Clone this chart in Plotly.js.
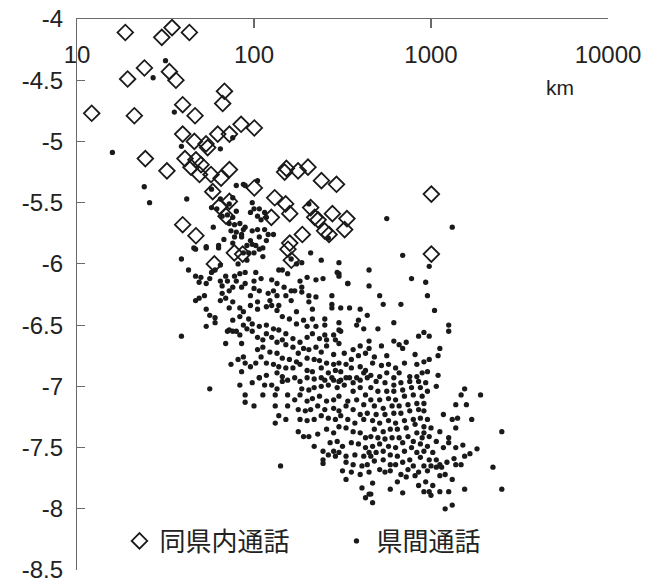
<!DOCTYPE html>
<html>
<head>
<meta charset="utf-8">
<script src="https://cdn.plot.ly/plotly-3.0.1.min.js"></script>
<style>
  html, body { margin: 0; padding: 0; background: #ffffff; }
  #chart { width: 645px; height: 587px; }
</style>
</head>
<body>
<div id="chart"></div>
<script>
// Series names (legend)
const seriesNames = ["同県内通話", "県間通話"];

// X-axis tick labels (distance, km)
const xTickValues = [10, 100, 1000, 10000];
const xTickLabels = ["10", "100", "1000", "10000"];
const xUnitLabel = "km";

// Y-axis tick labels
const yTickValues = [-4, -4.5, -5, -5.5, -6, -6.5, -7, -7.5, -8, -8.5];
const yTickLabels = ["-4", "-4.5", "-5", "-5.5", "-6", "-6.5", "-7", "-7.5", "-8", "-8.5"];

// 同県内通話 (within prefecture): [log10(distance km), value]
const intraPoints = [
  [1.273,-4.11],[1.479,-4.15],[1.537,-4.07],[1.635,-4.11],[1.381,-4.40],[1.286,-4.49],[1.522,-4.43],
  [1.559,-4.50],[1.833,-4.59],[1.823,-4.69],[1.083,-4.77],[1.324,-4.79],[1.597,-4.70],[1.667,-4.79],
  [1.927,-4.86],[2.002,-4.89],[1.597,-4.94],[1.663,-5.00],[1.795,-4.94],[1.861,-4.94],[1.729,-5.02],
  [1.386,-5.14],[1.508,-5.24],[1.610,-5.14],[1.644,-5.21],[1.672,-5.15],[1.692,-5.27],[1.701,-5.19],
  [1.757,-5.27],[1.814,-5.30],[1.861,-5.23],[1.767,-5.41],[1.805,-5.53],[1.861,-5.49],[1.842,-5.61],
  [1.597,-5.68],[1.672,-5.77],[1.889,-5.91],[1.936,-5.92],[1.776,-6.00],[1.738,-5.05],[2.002,-5.38],
  [2.183,-5.22],[2.173,-5.25],[2.249,-5.24],[2.305,-5.21],[2.381,-5.32],[2.466,-5.35],[2.117,-5.46],
  [2.179,-5.51],[2.202,-5.59],[2.098,-5.62],[2.320,-5.54],[2.362,-5.64],[2.343,-5.62],[2.443,-5.59],
  [2.525,-5.63],[2.399,-5.73],[2.424,-5.76],[2.512,-5.72],[2.273,-5.76],[2.202,-5.83],[2.192,-5.88],
  [2.211,-5.97],[3.002,-5.43],[3.002,-5.92]
];

// 県間通話 (between prefectures): [log10(distance km), value]
const interPointsUpper = [
  [1.50,-4.34],[1.43,-4.48],[1.55,-4.76],[1.20,-5.09],[1.38,-5.37],[1.41,-5.50],[1.62,-5.47],[1.59,-5.04],
  [1.81,-5.06],[1.88,-4.97],[1.66,-5.87],[1.73,-5.86],[1.80,-5.85],[1.77,-5.70],[1.83,-5.80],[1.90,-5.36],
  [1.95,-5.36],[1.99,-5.50],[1.98,-5.58],[1.86,-5.67],[1.89,-5.68],[1.92,-5.67],[1.87,-5.73],[1.90,-5.74],
  [1.94,-5.72],[1.93,-5.78],[1.89,-5.78],[1.76,-5.39],[1.81,-5.47],[1.79,-5.55],[1.82,-5.61],[2.02,-5.32],
  [1.88,-5.46],[1.86,-5.51],[1.90,-5.57],[1.85,-5.60],[1.88,-5.62],[1.76,-5.54],[2.48,-6.08],[2.53,-6.16],
  [1.94,-5.35],[2.00,-5.55],[2.03,-5.55],[2.06,-5.58],[2.02,-5.61],[2.04,-5.64],[2.07,-5.62],[1.95,-5.70],
  [1.93,-5.76],[1.99,-5.73],[2.02,-5.72],[2.06,-5.72],[2.08,-5.76],[2.11,-5.76],[2.03,-5.78],[2.07,-5.81],
  [1.98,-5.81],[1.96,-5.85],[2.01,-5.85],[2.05,-5.87],[2.31,-5.51],[2.75,-5.63],[3.12,-5.70]
];
const interPointsMidLeft = [
  [1.67,-5.88],[1.73,-5.87],[1.80,-5.87],[1.88,-5.83],[1.94,-5.91],[1.97,-5.91],[2.00,-5.91],[2.03,-5.88],
  [2.05,-5.94],[1.99,-5.84],[1.59,-5.96],[1.91,-6.00],[1.96,-5.97],[1.81,-6.01],[1.78,-6.05],[1.76,-6.07],
  [1.63,-6.05],[1.67,-6.10],[1.70,-6.11],[1.69,-6.15],[1.73,-6.16],[1.75,-6.12],[1.81,-6.14],[1.84,-6.10],
  [1.85,-6.14],[1.89,-6.10],[1.90,-6.14],[1.92,-6.08],[1.95,-6.07],[2.01,-6.07],[1.95,-6.16],[2.00,-6.14],
  [2.04,-6.12],[2.10,-6.13],[2.13,-6.16],[2.14,-6.05],[2.16,-6.05],[2.19,-6.08],[2.24,-6.00],[2.27,-5.99],
  [2.21,-5.96],[2.32,-5.91],[2.30,-6.11],[2.27,-6.19],[2.35,-6.13],[2.26,-6.14],[2.21,-6.22],[2.17,-6.19],
  [2.11,-6.22],[2.08,-6.24],[2.13,-6.26],[2.09,-6.30],[2.03,-6.22],[2.00,-6.20],[1.98,-6.26],[1.93,-6.19],
  [1.88,-6.19],[1.86,-6.22],[1.82,-6.18],[1.82,-6.24],[1.81,-6.30],[1.84,-6.28],[1.88,-6.31],[1.86,-6.36],
  [1.92,-6.36],[1.94,-6.39],[1.98,-6.34],[2.02,-6.31],[2.02,-6.37],[2.07,-6.35],[2.10,-6.34],[2.14,-6.34],
  [2.13,-6.38],[2.18,-6.26],[2.21,-6.30],[2.23,-6.22],[2.27,-6.23],[2.31,-6.26],[2.31,-6.31],[2.35,-6.27],
  [2.33,-6.37],[2.24,-6.39],[2.16,-6.43],[2.20,-6.45],[2.24,-6.49],[2.28,-6.46],[2.30,-6.51],[2.33,-6.45],
  [2.35,-6.51],[2.33,-6.57],[2.30,-6.60],[2.26,-6.64],[2.22,-6.61],[2.18,-6.57],[2.14,-6.54],[2.11,-6.53],
  [2.07,-6.50],[2.03,-6.51],[1.99,-6.49],[1.97,-6.45],[1.92,-6.43],[1.94,-6.50],[1.96,-6.53],[1.88,-6.46],
  [1.86,-6.54],[1.85,-6.55],[1.88,-6.55],[1.90,-6.55],[1.92,-6.58],[1.99,-6.55],[2.02,-6.60],[2.05,-6.62],
  [2.07,-6.57],[2.10,-6.60],[2.13,-6.64],[2.16,-6.62],[2.18,-6.66],[2.22,-6.68],[2.25,-6.73],[2.28,-6.69],
  [2.31,-6.70],[2.35,-6.68],[2.34,-6.78],[2.30,-6.77],[2.24,-6.80],[2.20,-6.78],[2.16,-6.77],[2.13,-6.73],
  [2.09,-6.72],[2.05,-6.68],[2.02,-6.70],[2.04,-6.76],[2.07,-6.81],[2.01,-6.81],[1.98,-6.84],[1.94,-6.76],
  [1.91,-6.78],[1.87,-6.82],[1.93,-6.88],[1.95,-6.81],[2.11,-6.82],[2.14,-6.84],[2.18,-6.85],[2.22,-6.85],
  [2.26,-6.82],[2.30,-6.87],[2.33,-6.88],[2.16,-6.92],[2.13,-6.89],[2.07,-6.91],[2.03,-6.93],[1.73,-6.37],
  [1.75,-6.42],[1.78,-6.44],[1.67,-6.30],[1.69,-6.28],[1.72,-6.26],[1.73,-6.51],[1.78,-6.48],[1.59,-6.59],
  [1.84,-6.65],[1.93,-6.65]
];
const interPointsMidRight = [
  [2.42,-5.79],[2.38,-5.97],[2.48,-5.99],[2.47,-6.07],[2.48,-6.10],[2.39,-6.12],[2.53,-6.16],[2.65,-6.05],
  [2.65,-6.18],[2.84,-5.93],[2.99,-6.02],[2.89,-6.12],[2.97,-6.15],[2.98,-6.26],[2.71,-6.26],[2.73,-6.33],
  [2.83,-6.33],[3.02,-6.38],[2.44,-6.26],[2.44,-6.33],[2.44,-6.36],[2.49,-6.36],[2.54,-6.36],[2.60,-6.37],
  [2.64,-6.42],[2.59,-6.46],[2.58,-6.50],[2.62,-6.53],[2.70,-6.53],[2.79,-6.48],[2.40,-6.45],[2.40,-6.50],
  [2.48,-6.48],[2.48,-6.54],[2.49,-6.55],[2.45,-6.58],[2.40,-6.58],[2.37,-6.61],[2.41,-6.62],[2.46,-6.62],
  [2.48,-6.65],[2.41,-6.67],[2.38,-6.72],[2.45,-6.74],[2.51,-6.73],[2.56,-6.70],[2.60,-6.67],[2.65,-6.63],
  [2.65,-6.69],[2.72,-6.67],[2.79,-6.63],[2.82,-6.66],[2.86,-6.64],[2.84,-6.69],[2.93,-6.59],[2.96,-6.56],
  [2.99,-6.59],[3.05,-6.69],[3.10,-6.50],[3.10,-6.55],[3.04,-6.75],[2.75,-6.75],[2.68,-6.76],[2.63,-6.73],
  [2.59,-6.75],[2.55,-6.78],[2.52,-6.82],[2.48,-6.81],[2.45,-6.82],[2.41,-6.81],[2.37,-6.79],[2.38,-6.85],
  [2.42,-6.89],[2.46,-6.87],[2.49,-6.88],[2.55,-6.85],[2.60,-6.84],[2.63,-6.87],[2.67,-6.81],[2.72,-6.83],
  [2.76,-6.82],[2.80,-6.85],[2.85,-6.81],[2.91,-6.74],[2.92,-6.82],[2.96,-6.80],[2.99,-6.78],[2.98,-6.88],
  [3.04,-6.91],[2.95,-6.89],[2.92,-6.92],[2.88,-6.92],[2.82,-6.89],[2.79,-6.93],[2.75,-6.89],[2.71,-6.92],
  [2.66,-6.91],[2.62,-6.89],[2.58,-6.93],[2.54,-6.93],[2.49,-6.95],[2.45,-6.95],[2.40,-6.95]
];
const interPointsLowLeft = [
  [1.75,-7.02],[1.92,-6.99],[1.99,-6.97],[2.03,-6.93],[2.06,-6.99],[2.10,-6.99],[2.13,-7.02],[2.16,-6.96],
  [2.19,-6.95],[2.23,-6.93],[2.26,-6.96],[2.30,-6.93],[2.34,-6.94],[2.38,-6.93],[2.44,-6.93],[2.48,-6.96],
  [2.52,-6.93],[2.56,-6.97],[2.60,-6.95],[2.64,-6.93],[1.95,-7.07],[1.95,-7.13],[2.00,-7.16],[2.05,-7.07],
  [2.12,-7.07],[2.12,-7.16],[2.19,-7.07],[2.19,-7.16],[2.14,-7.24],[2.12,-7.30],[2.18,-7.27],[2.23,-7.11],
  [2.26,-7.07],[2.27,-7.02],[2.31,-7.03],[2.34,-7.01],[2.38,-7.00],[2.42,-6.99],[2.47,-7.01],[2.51,-6.99],
  [2.56,-7.04],[2.60,-7.01],[2.63,-7.07],[2.30,-7.12],[2.33,-7.10],[2.37,-7.08],[2.41,-7.12],[2.45,-7.11],
  [2.48,-7.08],[2.53,-7.12],[2.58,-7.11],[2.62,-7.15],[2.25,-7.19],[2.29,-7.20],[2.32,-7.19],[2.36,-7.16],
  [2.40,-7.19],[2.45,-7.18],[2.48,-7.20],[2.52,-7.16],[2.56,-7.19],[2.60,-7.23],[2.64,-7.22],[2.26,-7.27],
  [2.30,-7.28],[2.34,-7.27],[2.38,-7.24],[2.42,-7.26],[2.46,-7.27],[2.49,-7.24],[2.53,-7.27],[2.57,-7.30],
  [2.62,-7.27],[2.25,-7.37],[2.28,-7.41],[2.31,-7.41],[2.36,-7.39],[2.41,-7.35],[2.45,-7.38],[2.48,-7.33],
  [2.52,-7.34],[2.56,-7.37],[2.60,-7.38],[2.63,-7.42],[2.34,-7.49],[2.39,-7.53],[2.43,-7.46],[2.47,-7.45],
  [2.50,-7.49],[2.55,-7.46],[2.59,-7.47],[2.63,-7.50],[2.39,-7.60],[2.42,-7.56],[2.46,-7.57],[2.52,-7.57],
  [2.57,-7.56],[2.62,-7.57],[2.65,-7.54],[2.39,-7.63],[2.52,-7.62],[2.56,-7.64],[2.61,-7.65],[2.64,-7.64],
  [2.50,-7.69],[2.55,-7.70],[2.60,-7.72],[2.65,-7.70],[2.52,-7.76],[2.61,-7.83],[2.65,-7.88],[2.63,-7.91],
  [2.15,-7.65],[2.45,-7.53],[2.48,-7.54]
];
const interPointsLowRight = [
  [3.03,-7.00],[3.19,-7.02],[3.28,-7.07],[3.17,-7.07],[3.14,-7.15],[3.20,-7.15],[3.07,-7.23],[3.12,-7.27],
  [3.15,-7.26],[3.23,-7.27],[3.14,-7.34],[3.05,-7.37],[3.10,-7.42],[3.10,-7.46],[3.40,-7.37],[3.07,-7.50],
  [3.14,-7.50],[3.18,-7.48],[3.26,-7.51],[3.22,-7.55],[3.19,-7.57],[3.13,-7.59],[3.09,-7.62],[3.05,-7.64],
  [3.14,-7.64],[3.17,-7.64],[3.35,-7.66],[3.03,-7.66],[3.06,-7.66],[3.08,-7.72],[3.05,-7.73],[3.12,-7.76],
  [3.01,-7.81],[2.97,-7.78],[2.93,-7.81],[2.96,-7.86],[2.99,-7.86],[3.00,-7.89],[3.05,-7.86],[3.10,-7.86],
  [3.19,-7.84],[3.40,-7.84],[3.12,-7.97],[3.08,-8.00],[2.77,-7.84],[2.84,-7.87],[2.67,-7.79],[2.67,-7.95],
  [2.66,-7.88],[2.86,-7.74],[2.81,-7.78],[2.83,-7.72],[2.91,-7.73],[2.93,-7.70],[2.96,-7.65],[2.98,-7.69],
  [3.00,-7.65],[3.03,-7.60],[2.99,-7.60],[2.94,-7.58],[2.90,-7.65],[2.87,-7.68],[2.84,-7.62],[2.80,-7.64],
  [2.77,-7.69],[2.74,-7.70],[2.71,-7.68],[2.68,-7.61],[2.73,-7.60],[2.77,-7.64],[2.88,-7.60],[2.92,-7.54],
  [2.96,-7.53],[3.01,-7.54],[2.98,-7.49],[2.94,-7.47],[2.89,-7.50],[2.85,-7.53],[2.81,-7.57],[2.77,-7.56],
  [2.73,-7.53],[2.69,-7.54],[2.66,-7.57],[2.67,-7.49],[2.71,-7.47],[2.76,-7.49],[2.80,-7.50],[2.84,-7.46],
  [2.90,-7.45],[2.95,-7.42],[2.99,-7.41],[3.03,-7.45],[3.00,-7.34],[2.96,-7.38],[2.92,-7.38],[2.87,-7.41],
  [2.82,-7.42],[2.78,-7.42],[2.74,-7.43],[2.70,-7.42],[2.66,-7.41],[2.68,-7.35],[2.73,-7.37],[2.77,-7.35],
  [2.81,-7.35],[2.86,-7.34],[2.91,-7.31],[2.96,-7.33],[2.98,-7.27],[2.94,-7.26],[2.90,-7.27],[2.85,-7.28],
  [2.80,-7.30],[2.76,-7.28],[2.71,-7.30],[2.67,-7.28],[2.69,-7.23],[2.74,-7.23],[2.79,-7.22],[2.83,-7.22],
  [2.88,-7.20],[2.93,-7.19],[2.96,-7.20],[2.96,-7.14],[2.92,-7.14],[2.87,-7.15],[2.82,-7.16],[2.78,-7.16],
  [2.73,-7.18],[2.68,-7.16],[2.66,-7.11],[2.71,-7.11],[2.76,-7.10],[2.80,-7.11],[2.85,-7.08],[2.90,-7.07],
  [2.95,-7.08],[2.98,-7.04],[2.94,-7.01],[2.89,-7.01],[2.84,-7.03],[2.79,-7.04],[2.75,-7.04],[2.70,-7.04],
  [2.66,-7.01],[2.69,-6.96],[2.74,-6.97],[2.79,-6.99],[2.83,-6.97],[2.88,-6.96],[2.93,-6.96],[2.97,-6.97]
];

const interPoints = [].concat(interPointsUpper, interPointsMidLeft, interPointsMidRight,
                              interPointsLowLeft, interPointsLowRight);

const toKm = p => Math.pow(10, p[0]);
const toVal = p => p[1];

const axisColor = "#6a6a6a";
const inkColor = "#1a1a1a";
const tickFont = { size: 24, family: "Liberation Sans, Arial, sans-serif", color: "#222222" };

const traces = [
  {
    type: "scatter", mode: "markers", name: seriesNames[0],
    x: intraPoints.map(toKm), y: intraPoints.map(toVal),
    marker: { symbol: "diamond-open", size: 12, color: inkColor, line: { width: 1.8, color: inkColor } },
    hoverinfo: "x+y"
  },
  {
    type: "scatter", mode: "markers", name: seriesNames[1],
    x: interPoints.map(toKm), y: interPoints.map(toVal),
    marker: { symbol: "circle", size: 5.3, color: inkColor, line: { width: 0 } },
    hoverinfo: "x+y"
  }
];

const layout = {
  width: 645, height: 587,
  margin: { l: 77, r: 37, t: 19, b: 17 },
  paper_bgcolor: "#ffffff", plot_bgcolor: "#ffffff",
  showlegend: true,
  font: { family: "Liberation Sans, Arial, sans-serif", color: "#222222" },
  xaxis: {
    type: "log", range: [1, 4], side: "top",
    showline: true, linecolor: axisColor, linewidth: 1.2,
    ticks: "inside", ticklen: 9, tickwidth: 1.2, tickcolor: axisColor,
    tickvals: xTickValues, ticktext: xTickLabels,
    ticklabelposition: "inside", ticklabeloverflow: "allow", ticklabelstandoff: 20,
    tickfont: tickFont,
    showgrid: false, zeroline: false, fixedrange: true
  },
  yaxis: {
    range: [-8.5, -4],
    tickvals: yTickValues, ticktext: yTickLabels,
    showline: true, linecolor: axisColor, linewidth: 1.2,
    ticks: "inside", ticklen: 8, tickwidth: 1.2, tickcolor: axisColor,
    ticklabelstandoff: 8, ticklabeloverflow: "allow",
    tickfont: tickFont,
    showgrid: false, zeroline: false, fixedrange: true
  },
  legend: {
    orientation: "h", x: 0.08, y: 0.01, xanchor: "left", yanchor: "bottom",
    bgcolor: "rgba(0,0,0,0)", borderwidth: 0,
    font: { size: 26, family: "Noto Sans CJK JP, sans-serif", color: "#222222" },
    entrywidth: 172, entrywidthmode: "pixels", itemsizing: "trace"
  },
  annotations: [
    { xref: "paper", yref: "paper", x: 0.94, y: 0.9, text: xUnitLabel, showarrow: false,
      font: { size: 21, family: "Liberation Sans, Arial, sans-serif", color: "#222222" } }
  ]
};

Plotly.newPlot("chart", traces, layout, { displayModeBar: false, staticPlot: true });
</script>
</body>
</html>
